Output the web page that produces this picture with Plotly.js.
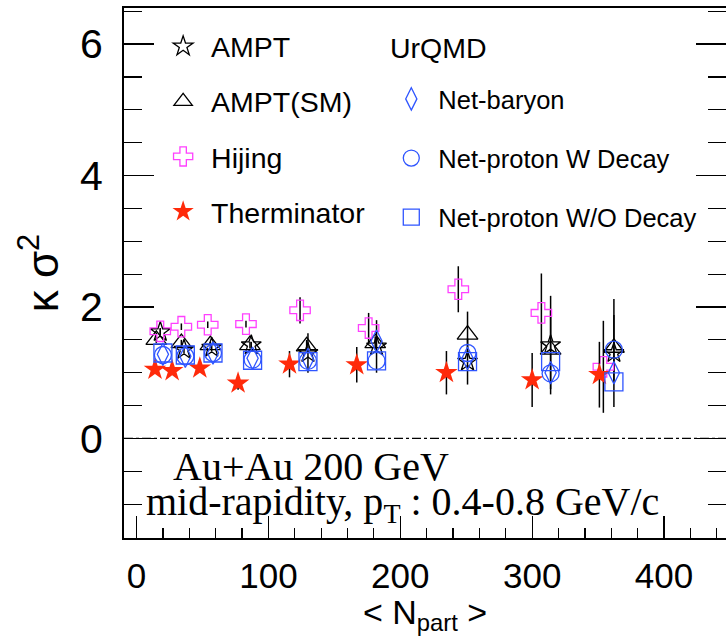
<!DOCTYPE html>
<html>
<head>
<meta charset="utf-8">
<script src="https://cdn.plot.ly/plotly-3.0.1.min.js"></script>
<style>html,body{margin:0;padding:0;background:#fff;}#chart{width:726px;height:636px;}</style>
</head>
<body>
<div id="chart"></div>
<script>
// ---- data ----
const amptX   = [18, 36, 57, 87, 130, 182, 251, 314, 362];
const amptY   = [1.62, 1.35, 1.38, 1.42, 1.30, 1.40, 1.17, 1.42, 1.30];
const amptE   = [0.05, 0.05, 0.05, 0.05, 0.30, 0.40, 0.35, 0.75, 0.82];

const amptSMX = [15, 34, 56, 86, 129, 181, 251, 314, 362];
const amptSMY = [1.50, 1.45, 1.42, 1.42, 1.40, 1.45, 1.58, 1.35, 1.38];
const amptSME = [0.05, 0.05, 0.05, 0.05, 0.10, 0.10, 0.35, 0.60, 0.50];

const hijX    = [18, 34, 54, 83, 124, 176, 244, 307, 354];
const hijY    = [1.63, 1.70, 1.73, 1.74, 1.95, 1.68, 2.27, 1.91, 1.09];
const hijE    = [0.05, 0.05, 0.05, 0.05, 0.20, 0.23, 0.35, 0.60, 0.70];

const thermX  = [14, 27, 48, 77, 116, 167, 235, 300, 351];
const thermY  = [1.05, 1.03, 1.07, 0.84, 1.13, 1.12, 1.00, 0.89, 0.97];
const thermE  = [0.03, 0.03, 0.03, 0.10, 0.20, 0.27, 0.33, 0.41, 0.50];

const urX     = [20, 37, 58, 88, 130, 182, 251, 314, 362];
const nbY     = [1.28, 1.25, 1.30, 1.22, 1.20, 1.48, 1.22, 1.00, 1.00];
const wdY     = [1.27, 1.25, 1.30, 1.20, 1.18, 1.18, 1.30, 0.99, 1.35];
const wodY    = [1.30, 1.27, 1.30, 1.19, 1.17, 1.18, 1.17, 1.17, 0.86];

const xTickVals = [0, 100, 200, 300, 400];
const yTickVals = [0, 2, 4, 6];

// ---- styles ----
const BLUE = '#2f55ff', MAG = '#ff40ff', RED = '#ff2a0a';
const errStyle = (arr) => ({type: 'data', array: arr, visible: true, color: '#000', thickness: 1.5, width: 0});

function tr(name, x, y, e, symbol, color, size, legend, group, filled) {
  return {
    type: 'scatter', mode: 'markers', name: name, x: x, y: y,
    error_y: e ? errStyle(e) : {visible: false},
    marker: {symbol: symbol, size: size, color: color,
             line: {color: color, width: filled ? 0 : 1.3}},
    legend: legend, legendgroup: group, showlegend: true
  };
}

const data = [
  tr('\u00a0AMPT', amptX, amptY, amptE, 'star-open', '#000', 15, 'legend', 'g1'),
  tr('\u00a0AMPT(SM)', amptSMX, amptSMY, amptSME, 'triangle-up-open', '#000', 18, 'legend', 'g2'),
  tr('\u00a0Hijing', hijX, hijY, hijE, 'cross-open', MAG, 17, 'legend', 'g3'),
  tr('\u00a0Therminator', thermX, thermY, thermE, 'star', RED, 17, 'legend', 'g4', true),
  tr('\u00a0Net-baryon', urX, nbY, null, 'diamond-tall-open', BLUE, 16, 'legend2', 'h1'),
  tr('\u00a0Net-proton W Decay', urX, wdY, null, 'circle-open', BLUE, 17, 'legend2', 'h2'),
  tr('\u00a0Net-proton W/O Decay', urX, wodY, null, 'square-open', BLUE, 18, 'legend2', 'h3')
];

const SANS = 'Liberation Sans, Arial, sans-serif';
const SERIF = 'Liberation Serif, Times New Roman, serif';

const layout = {
  width: 726, height: 636,
  margin: {l: 124, r: 0, t: 8, b: 98, pad: 0},
  paper_bgcolor: '#fff', plot_bgcolor: '#fff',
  font: {family: SANS, color: '#000'},
  xaxis: {
    range: [-9.5, 447], tickvals: xTickVals, ticktext: xTickVals.map(String),
    ticks: 'inside', ticklen: 22, tickwidth: 1.3, tickcolor: '#000',
    minor: {dtick: 20, tick0: 0, ticks: 'inside', ticklen: 10, tickwidth: 1.2, tickcolor: '#000', showgrid: false},
    showline: true, linewidth: 2, linecolor: '#000', mirror: true,
    showgrid: false, zeroline: false, tickfont: {family: SANS, size: 35, color: '#000'}, ticklabelstandoff: 6,
    title: {text: '< N<sub>part</sub> >', font: {family: SANS, size: 34}, standoff: 4}
  },
  yaxis: {
    range: [-1.515, 6.55], tickvals: yTickVals, ticktext: yTickVals.map(String),
    ticks: 'inside', ticklen: 30, tickwidth: 1.3, tickcolor: '#000',
    minor: {dtick: 0.5, tick0: 0, ticks: 'inside', ticklen: 18, tickwidth: 1.2, tickcolor: '#000', showgrid: false},
    showline: true, linewidth: 2, linecolor: '#000', mirror: 'ticks',
    showgrid: false, zeroline: false, tickfont: {family: SANS, size: 41, color: '#000'}, ticklabelstandoff: 11,
    title: {text: '\u03ba \u03c3<sup>2</sup>', font: {family: SANS, size: 44}, standoff: 8}
  },
  shapes: [{type: 'line', xref: 'paper', yref: 'y', x0: 0, x1: 1, y0: 0, y1: 0,
            line: {color: '#000', width: 1.2, dash: 'dashdot'}}],
  legend: {
    x: 0.065, y: 0.975, xanchor: 'left', yanchor: 'top',
    bgcolor: 'rgba(0,0,0,0)', borderwidth: 0, tracegroupgap: 15,
    font: {family: SANS, size: 28.5, color: '#000'},
    itemsizing: 'trace'
  },
  legend2: {
    x: 0.444, y: 0.872, xanchor: 'left', yanchor: 'top',
    bgcolor: 'rgba(0,0,0,0)', borderwidth: 0, tracegroupgap: 23,
    font: {family: SANS, size: 25.5, color: '#000'},
    itemsizing: 'trace'
  },
  annotations: [
    {xref: 'paper', yref: 'paper', x: 0.4385, y: 0.925, xanchor: 'left', yanchor: 'middle',
     text: 'UrQMD', showarrow: false, font: {family: SANS, size: 28.5, color: '#000'}},
    {xref: 'paper', yref: 'paper', x: 0.078, y: 0.135, xanchor: 'left', yanchor: 'middle',
     text: 'Au+Au 200 GeV', showarrow: false,
     font: {family: SERIF, size: 40, color: '#000'}},
    {xref: 'paper', yref: 'paper', x: 0.033, y: 0.065, xanchor: 'left', yanchor: 'middle',
     text: 'mid-rapidity, p<sub>T</sub> : 0.4-0.8 GeV/c', showarrow: false,
     font: {family: SERIF, size: 40, color: '#000'}}
  ]
};

Plotly.newPlot('chart', data, layout, {displayModeBar: false, staticPlot: true});
</script>
</body>
</html>
